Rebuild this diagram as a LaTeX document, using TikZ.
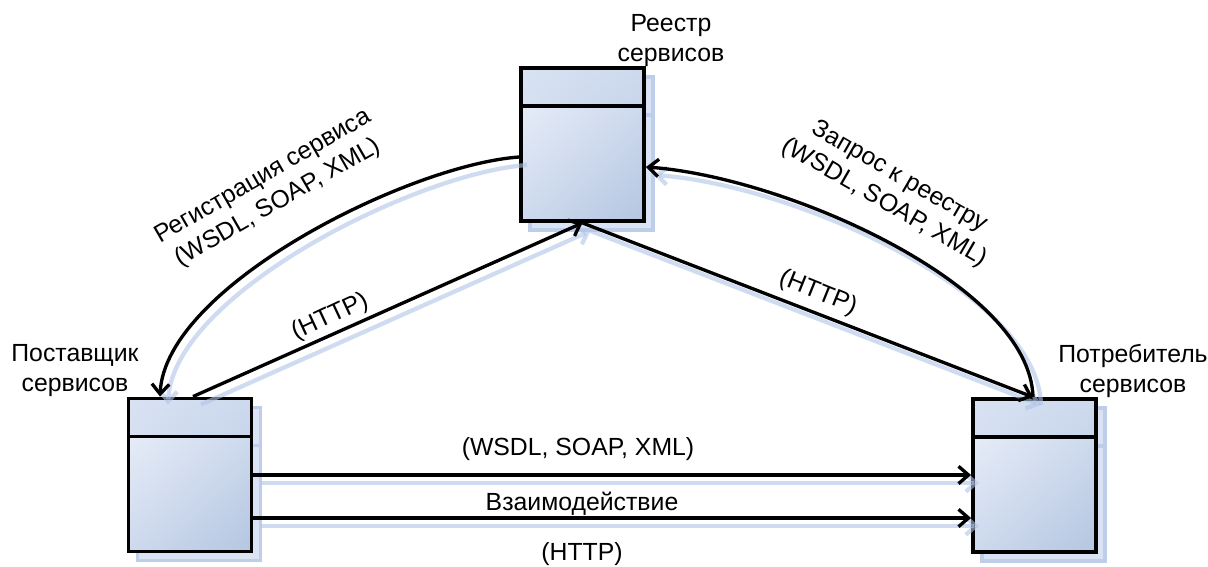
\documentclass[tikz,border=0pt]{standalone}
\usepackage{fontspec}
\setmainfont{Liberation Sans}
\usetikzlibrary{arrows.meta,calc,shadings}

\definecolor{boxA}{RGB}{230,236,247}
\definecolor{boxB}{RGB}{205,217,237}
\definecolor{boxC}{RGB}{180,198,225}
\definecolor{boxTopA}{RGB}{216,226,242}
\definecolor{boxTopC}{RGB}{182,200,226}
\definecolor{shadowfill}{RGB}{218,227,243}
\definecolor{shadowline}{RGB}{190,206,234}
\definecolor{linkshadow}{RGB}{176,196,232}

\begin{document}
\begin{tikzpicture}[x=0.75pt,y=-0.75pt,
  font=\fontsize{18.6}{22.5}\selectfont,
  box/.style={rectangle, draw=black, line width=2.9pt,
    minimum width=92.25pt, minimum height=114.75pt, inner sep=0pt,
    path picture={
      \shade[upper left=boxTopA, upper right=boxB, lower left=boxB, lower right=boxTopC]
        (path picture bounding box.north west) rectangle ([yshift=-28.5pt]path picture bounding box.north east);
      \shade[upper left=boxA, upper right=boxB, lower left=boxB, lower right=boxC]
        ([yshift=-28.5pt]path picture bounding box.north west) rectangle (path picture bounding box.south east);
      \draw[line width=2.9pt]
        ([yshift=-28.5pt]path picture bounding box.north west) -- ([yshift=-28.5pt]path picture bounding box.north east);
    }},
  boxshadow/.style={fill=shadowfill, draw=shadowline, line width=2.4pt},
  link/.style={draw=black, line width=2.5pt, -{Straight Barb[length=7.5pt,width=13pt]}},
  linkshade/.style={draw=linkshadow, draw opacity=0.6, line width=3.2pt,
    -{Straight Barb[length=7.5pt,width=13pt]},
    transform canvas={xshift=6pt,yshift=-6pt}},
  lbl/.style={inner sep=0pt, align=center},
]
\useasboundingbox[fill=white] (0,0) rectangle (1208,567);

% the three parties
\coordinate (regc) at (582.5,144.5);
\coordinate (provc) at (190,475);
\coordinate (consc) at (1034.5,475.5);

% box shadows
\foreach \c in {regc,provc,consc}{
  \draw[boxshadow] ($(\c)+(-61.5+9,-76.5+9)$) rectangle ($(\c)+(61.5+9,76.5+9)$);
  \draw[shadowline, line width=2.4pt] ($(\c)+(-61.5+9,-76.5+9+38)$) -- ($(\c)+(61.5+9,-76.5+9+38)$);
}

\node[box] (reg) at (regc) {};
\node[box] (prov) at (provc) {};
\node[box] (cons) at (consc) {};

% connector end points on the box borders
\coordinate (regW) at ($(reg.west)+(0,12.5)$);
\coordinate (regE) at ($(reg.east)+(0,22.5)$);
\coordinate (provA) at ($(prov.north)+(-30,0)$);
\coordinate (provB) at ($(prov.north)+(3,0)$);
\coordinate (consA) at ($(cons.north)+(-1.5,0)$);
\coordinate (provE2) at ($(prov.east)+(0,43)$);

% connectors, first their shadows, then the lines themselves
\foreach \s in {linkshade,link}{
  \draw[\s] (regW) .. controls +(-111,8) and +(5,-110) .. (provA);
  \draw[\s] (provB) -- (reg.south);
  \draw[\s] (reg.south) -- (consA);
  \draw[\s] (consA) .. controls +(-3,-112) and +(140,10) .. (regE);
  \draw[\s] (prov.east) -- (prov.east -| cons.west);
  \draw[\s] (provE2) -- (provE2 -| cons.west);
}

% box captions
\node[lbl] (regT) at (671,41) {Реестр\\сервисов};
\node[lbl] (provT) at (75,371) {Поставщик\\сервисов};
\node[lbl] (consT) at (1133,371) {Потребитель\\сервисов};

% connector captions
\node[lbl, rotate=30] (regLbl) at (271,190) {Регистрация сервиса\\(WSDL, SOAP, XML)};
\node[lbl, rotate=-30] (reqLbl) at (892,190) {Запрос к реестру\\(WSDL, SOAP, XML)};
\node[lbl, rotate=25] (httpL) at (330,317) {(HTTP)};
\node[lbl, rotate=-22] (httpR) at (818,293) {(HTTP)};
\node[lbl, anchor=base] (wsdl) at (578,455) {(WSDL, SOAP, XML)};
\node[lbl, anchor=base] (inter) at (582,510) {Взаимодействие};
\node[lbl, anchor=base] (httpB) at (582,560) {(HTTP)};
\end{tikzpicture}
\end{document}
